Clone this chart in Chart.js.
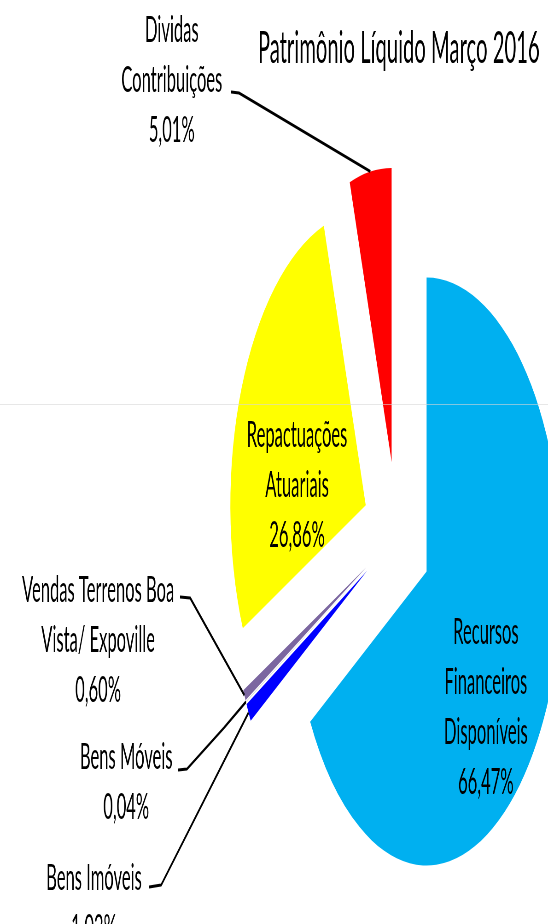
<!DOCTYPE html>
<html>
<head>
<meta charset="utf-8">
<script src="https://cdn.jsdelivr.net/npm/chart.js@4.4.1/dist/chart.umd.min.js"></script>
<style>
  html, body { margin: 0; padding: 0; background: #fff; overflow: hidden; }
  #pie { display: block; }
</style>
</head>
<body>
<!-- the original picture is squeezed horizontally, so draw wide and show it narrow -->
<canvas id="pie" width="1190" height="924" style="width:548px;height:924px"></canvas>
<script>
// data
const categories = ['Recursos Financeiros Disponíveis', 'Bens Imóveis', 'Bens Móveis',
  'Vendas Terrenos Boa Vista/ Expoville', 'Repactuações Atuariais', 'Dividas Contribuições'];
const shares = [66.47, 1.02, 0.04, 0.60, 26.86, 5.01];
const labelLines = [
  ['Recursos', 'Financeiros', 'Disponíveis'],
  ['Bens Imóveis'],
  ['Bens Móveis'],
  ['Vendas Terrenos Boa', 'Vista/ Expoville'],
  ['Repactuações', 'Atuariais'],
  ['Dividas', 'Contribuições']
];
const sliceColors = ['#00B0F0', '#0000FF', '#D0D0D0', '#7B66A0', '#FFFF00', '#FF0000'];
const chartTitle = 'Patrimônio Líquido Março 2016';

// layout (canvas coords, before the horizontal squeeze)
const pieRadius = 294;
const explode = 74;
const lineGap = 50;
const FONT = 'Lato, "Open Sans", sans-serif';
// label block: centre x, centre y of first line
const labelPos = [[1055, 632], [204, 878], [274, 757], [213, 590], [645, 435], [373, 30]];
// leader lines: points from the label to the slice tip (tip added from the arc)
const leaders = {
  5: [[502, 92], [519, 93]],
  3: [[391, 597], [413, 598]],
  2: [[387, 770], [406, 769], [486, 728]],
  1: [[324, 887], [350, 885]]
};

function pctText(v) {
  return v.toFixed(2).replace('.', ',') + '%';
}

// Chart.js offset also trims the slice angles, so move each slice out by hand
const explodeSlices = {
  id: 'explodeSlices',
  beforeDatasetsDraw(chart) {
    const a = chart.chartArea;
    const cx = (a.left + a.right) / 2;
    const cy = (a.top + a.bottom) / 2;
    chart.getDatasetMeta(0).data.forEach(arc => {
      const mid = (arc.startAngle + arc.endAngle) / 2;
      arc.x = cx + Math.cos(mid) * explode;
      arc.y = cy + Math.sin(mid) * explode;
    });
  }
};

function sliceTip(arc) {
  const mid = (arc.startAngle + arc.endAngle) / 2;
  return [arc.x + Math.cos(mid) * arc.outerRadius, arc.y + Math.sin(mid) * arc.outerRadius];
}

const labelsPlugin = {
  id: 'labelsPlugin',
  afterDraw(chart) {
    const ctx = chart.ctx;
    const arcs = chart.getDatasetMeta(0).data;
    ctx.save();

    // leader lines
    ctx.strokeStyle = '#000';
    ctx.lineWidth = 3;
    ctx.lineJoin = 'round';
    Object.keys(leaders).forEach(k => {
      const pts = leaders[k].concat([sliceTip(arcs[k])]);
      ctx.beginPath();
      ctx.moveTo(pts[0][0], pts[0][1]);
      for (let i = 1; i < pts.length; i++) ctx.lineTo(pts[i][0], pts[i][1]);
      ctx.stroke();
    });

    // data labels
    ctx.fillStyle = '#000';
    ctx.textAlign = 'center';
    ctx.textBaseline = 'middle';
    ctx.font = '36px ' + FONT;
    shares.forEach((v, i) => {
      const lines = labelLines[i].concat([pctText(v)]);
      const [x, y] = labelPos[i];
      lines.forEach((t, j) => ctx.fillText(t, x, y + j * lineGap));
    });

    // title
    ctx.font = '44px ' + FONT;
    ctx.fillText(chartTitle, 866, 49);

    // faint scan line of the original picture
    ctx.strokeStyle = 'rgba(215,215,215,0.6)';
    ctx.lineWidth = 1;
    ctx.beginPath();
    ctx.moveTo(0, 404.5);
    ctx.lineTo(chart.width, 404.5);
    ctx.stroke();

    ctx.restore();
  }
};

new Chart(document.getElementById('pie'), {
  type: 'pie',
  data: {
    labels: categories,
    datasets: [{
      data: shares,
      backgroundColor: sliceColors,
      borderWidth: 0,
      hoverOffset: 0
    }]
  },
  options: {
    responsive: false,
    devicePixelRatio: 1,
    animation: false,
    radius: pieRadius,
    layout: { padding: { left: 542, right: 8, top: 215, bottom: 69 } },
    plugins: {
      legend: { display: false },
      title: { display: false },
      tooltip: { enabled: false }
    }
  },
  plugins: [explodeSlices, labelsPlugin]
});
</script>
</body>
</html>
